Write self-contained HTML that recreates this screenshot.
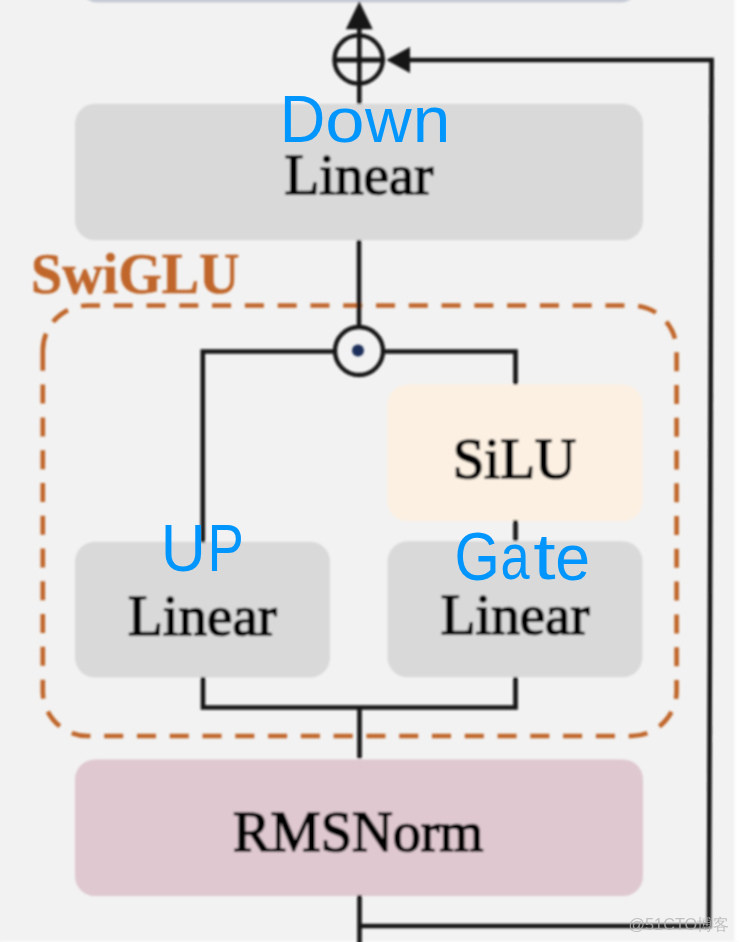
<!DOCTYPE html>
<html><head><meta charset="utf-8">
<style>
html,body{margin:0;padding:0;background:#f2f2f2;}
body{width:739px;height:942px;overflow:hidden;position:relative;}
svg{position:absolute;left:0;top:0;}
</style></head>
<body>
<svg width="739" height="942" viewBox="0 0 739 942">
  <defs>
    <filter id="bl" x="-5%" y="-5%" width="110%" height="110%"><feGaussianBlur stdDeviation="1.15"/></filter>
    <filter id="bl2" x="-5%" y="-50%" width="110%" height="200%"><feGaussianBlur stdDeviation="1"/></filter>
  </defs>
  <rect x="0" y="0" width="739" height="942" fill="#f2f2f2"/>
  <rect x="734.5" y="-10" width="20" height="962" fill="#ffffff" filter="url(#bl2)"/>
  <rect x="0" y="941" width="739" height="3" fill="#fafafa" filter="url(#bl2)"/>
  <!-- top box bottom edge -->
  <rect x="78" y="-40" width="562" height="42.5" rx="20" fill="#c4c9d5" filter="url(#bl2)"/>

  <g filter="url(#bl)">
  <!-- boxes -->
  <rect x="75" y="103.8" width="568" height="136.5" rx="20" fill="#d9d9d9"/>
  <rect x="387.5" y="384.5" width="255" height="136.8" rx="20" fill="#fcf0e2"/>
  <rect x="75" y="541.7" width="255" height="135.8" rx="20" fill="#d9d9d9"/>
  <rect x="387.5" y="541.3" width="255" height="136" rx="20" fill="#d9d9d9"/>
  <rect x="75" y="759.5" width="568" height="136.5" rx="20" fill="#dfc8cf"/>

  <!-- dashed swiglu boundary -->
  <path d="M42.8 352.3 V350.5 A45 45 0 0 1 87.8 305.5 H631.6 A45 45 0 0 1 676.6 350.5 V691 A45 45 0 0 1 631.6 736 H87.8 A45 45 0 0 1 42.8 691 Z"
        fill="none" stroke="#c0662b" stroke-width="4.6" stroke-dasharray="19 13.78" stroke-linecap="butt"/>

  <!-- lines -->
  <g stroke="#141414" stroke-width="4.6" fill="none" stroke-linejoin="miter">
    <line x1="359.3" y1="104" x2="359.3" y2="26"/>
    <line x1="333" y1="60" x2="385" y2="60" stroke-width="4.8"/>
    <circle cx="358.6" cy="59.5" r="24.1" stroke-width="4.4"/>
    <polyline points="408,60 711.6,60 709,926 359.5,926"/>
    <line x1="359.5" y1="895" x2="359.5" y2="945"/>
    <line x1="359" y1="240" x2="359" y2="325"/>
    <circle cx="359" cy="351" r="24" stroke-width="4.4"/>
    <polyline points="333,351.5 202.8,351.5 202.8,542.5"/>
    <polyline points="385,351.5 515.5,351.5 515.5,384.5"/>
    <line x1="515.5" y1="520" x2="515.5" y2="541"/>
    <polyline points="203,677 203,707.5 515.5,707.5 515.5,677"/>
    <line x1="359.5" y1="707.5" x2="359.5" y2="758.5"/>
  </g>
  <circle cx="358" cy="350.5" r="6" fill="#1c2f5a"/>
  <polygon points="359.3,1.5 345.8,29.2 372.8,29.2" fill="#141414"/>
  <polygon points="386.3,60 410,47 410,73" fill="#141414"/>

  <g font-family="Liberation Serif, serif" fill="#000" stroke="#000" stroke-width="1.7" font-size="57">
    <text x="358.75" y="194" text-anchor="middle">Linear</text>
    <text x="514.4" y="477.8" text-anchor="middle">SiLU</text>
    <text x="202.3" y="634.5" text-anchor="middle">Linear</text>
    <text x="515" y="634" text-anchor="middle">Linear</text>
    <text x="358.2" y="851" font-size="56.3" text-anchor="middle">RMSNorm</text>
  </g>
  <text x="31" y="292.6" font-family="Liberation Serif, serif" font-weight="bold" font-size="56" fill="#c0662b" stroke="#c0662b" stroke-width="0.6">SwiGLU</text>
  </g>

  <g font-family="Liberation Sans, sans-serif" fill="#0096fd" font-size="100">
    <text transform="translate(279.82 141.80) scale(0.6315 0.6672)">D</text>
    <text transform="translate(325.14 142.28) scale(0.7053 0.6370)">o</text>
    <text transform="translate(364.99 141.90) scale(0.6459 0.6227)">w</text>
    <text transform="translate(412.71 141.90) scale(0.6756 0.6449)">n</text>
    <text transform="translate(160.68 570.94) scale(0.6251 0.6736)">U</text>
    <text transform="translate(207.43 570.90) scale(0.5449 0.6730)">P</text>
    <text transform="translate(454.57 579.74) scale(0.5821 0.6808)">G</text>
    <text transform="translate(500.38 579.16) scale(0.5237 0.6553)">a</text>
    <text transform="translate(533.18 579.29) scale(0.8067 0.6496)">t</text>
    <text transform="translate(555.24 579.76) scale(0.6265 0.6553)">e</text>
  </g>
  <text x="628.5" y="930" font-family="Liberation Sans, sans-serif" font-size="16.3" fill="#b4b4b4" opacity="0.8">@51CTO博客</text>
</svg>
</body></html>
